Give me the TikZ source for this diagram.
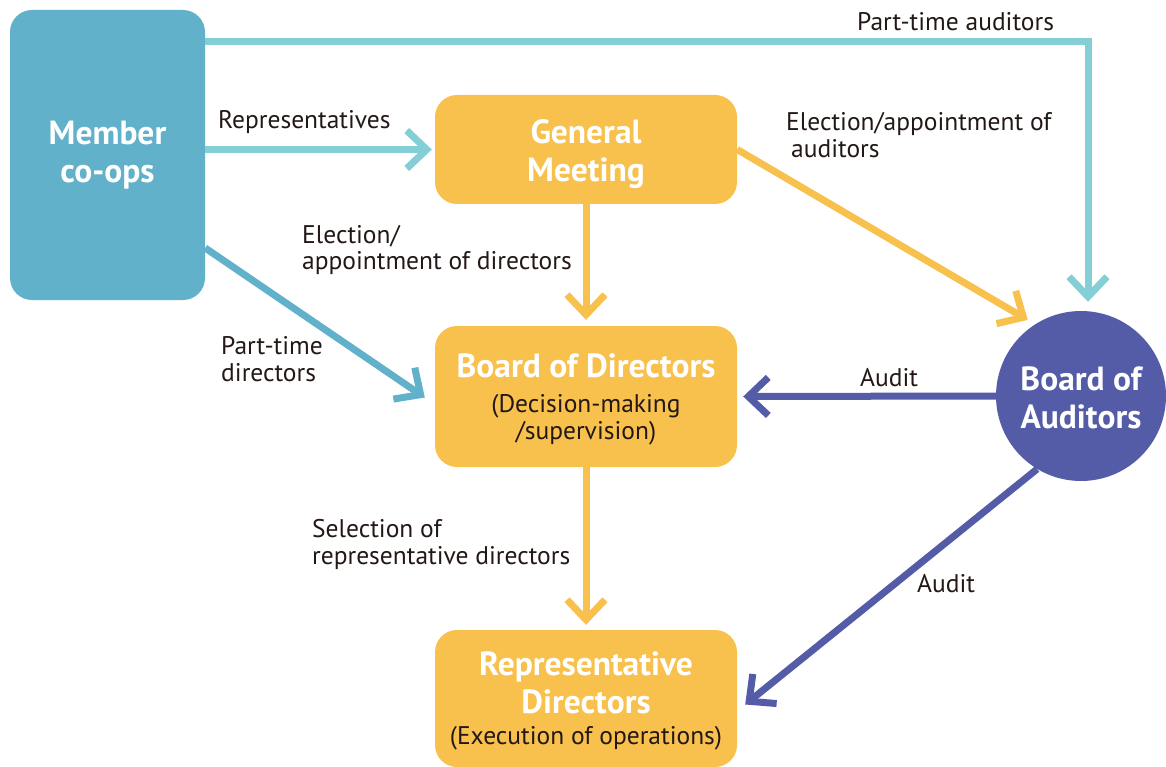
\documentclass[tikz,border=0pt]{standalone}
\usepackage{fontspec}
\setmainfont{PT Sans}
\usetikzlibrary{arrows.meta,calc}
\definecolor{memblue}{HTML}{61B1CA}
\definecolor{lcyan}{HTML}{84CED6}
\definecolor{yel}{HTML}{F8C04D}
\definecolor{purp}{HTML}{545CA8}
\definecolor{txt}{HTML}{231815}
\begin{document}
\begin{tikzpicture}[x=1pt,y=-1pt,
  box/.style={rectangle,rounded corners=22pt,inner sep=0pt,align=center,text=white,
    font=\bfseries\fontsize{33.5}{38}\selectfont},
  membox/.style={box,fill=memblue,minimum width=195pt,minimum height=290pt},
  ybox/.style={box,fill=yel,minimum width=302pt},
  circ/.style={circle,fill=purp,minimum size=170pt,inner sep=0pt,align=center,text=white,
    font=\bfseries\fontsize{33.5}{38}\selectfont},
  lbl/.style={inner sep=0pt,anchor=west,align=left,text=txt,font=\fontsize{25.5}{26.5}\selectfont},
  arr/.style={line width=7pt,-{Straight Barb[length=20pt,width=38pt]}}
]
\useasboundingbox (0,0) rectangle (1166,767);
\clip (0,0) rectangle (1166,767);

\node[membox] (mem) at (107.5,155) {Member\\co-ops};
\node[ybox,minimum height=109pt] (gm) at (586,149.5) {\rule{0pt}{34pt}General\\Meeting};
\node[ybox,minimum height=141pt] (bod) at (586,396.5)
  {\rule{0pt}{30pt}Board of Directors\\[-3pt]{\normalfont\color{txt}\fontsize{25.5}{26}\selectfont (Decision-making}\\[-11pt]{\normalfont\color{txt}\fontsize{25.5}{26}\selectfont /supervision)}};
\node[ybox,minimum height=137pt] (rd) at (586,698.5)
  {\rule{0pt}{29pt}Representative\\Directors\\[-7pt]{\normalfont\color{txt}\fontsize{25.5}{26}\selectfont (Execution of operations)}};
\node[circ] (boa) at (1081,396) {\rule{0pt}{27pt}Board of\\Auditors};

% connectors
\draw[arr,lcyan] ([yshift=-32pt]mem.north east) -| ([xshift=7pt,yshift=9pt]boa.north);
\draw[arr,lcyan] (mem.east |- gm.west) -- ([xshift=-3pt]gm.west);
\draw[arr,memblue] ([yshift=-93pt]mem.east) -- ([xshift=-10pt,yshift=-1pt]bod.west);
\draw[arr,yel] (gm.south) -- ([yshift=6pt]bod.north);
\draw[arr,yel] (gm.east) -- ($(boa.center)!1.09!(boa.125)$);
\draw[arr,purp] (boa.west) -- ([xshift=6pt]bod.east);
\draw[arr,purp] (boa.239) -- ([xshift=8pt,yshift=-6pt]rd.east);
\draw[arr,yel] (bod.south) -- ([yshift=5pt]rd.north);

% labels
\node[lbl] (l1) at (857,22) {Part-time auditors};
\node[lbl] (l2) at (218,122) {Representatives};
\node[lbl] (l3) at (786,135) {Election/appointment of\\\hspace{5pt}auditors};
\node[lbl] (l4) at (302,250) {Election/\\appointment of directors};
\node[lbl] (l5) at (221,359) {Part-time\\directors};
\node[lbl] (l6) at (860,378) {Audit};
\node[lbl] (l7) at (312,544.5) {Selection of\\representative directors};
\node[lbl] (l8) at (917,584) {Audit};
\end{tikzpicture}
\end{document}
